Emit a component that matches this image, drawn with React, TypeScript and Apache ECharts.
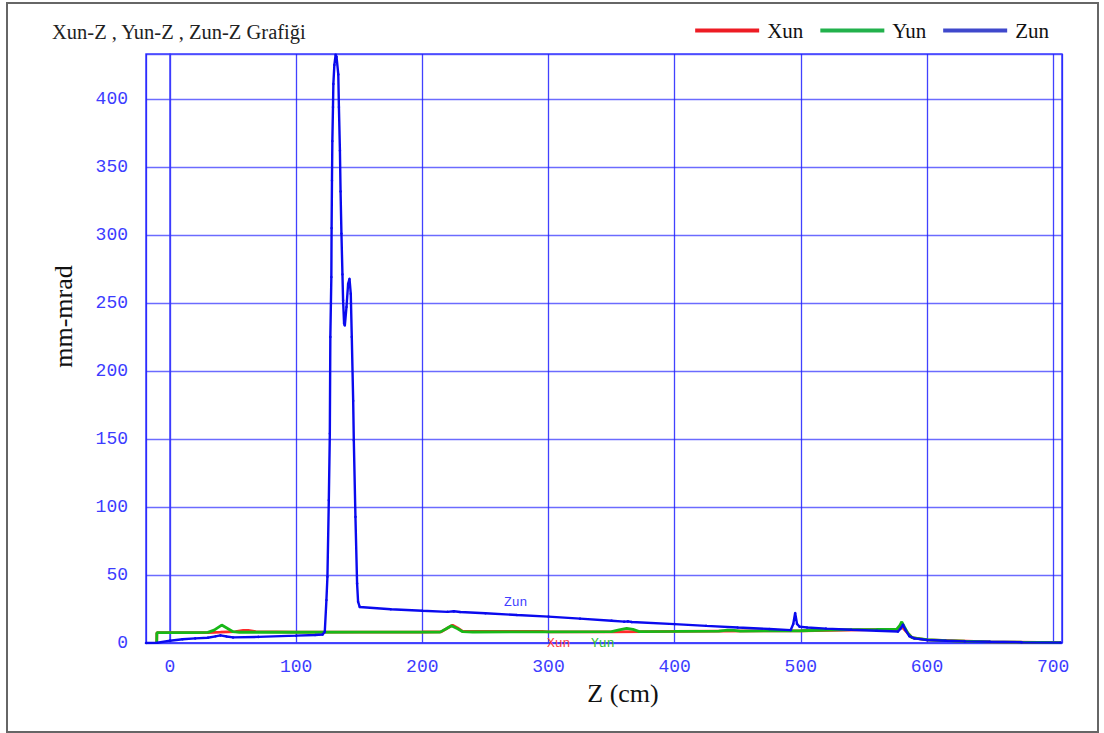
import React, { useEffect, useRef } from "react";
import * as echarts from "echarts";

// ---- data ----
const zunZ = [-19, -10, 0, 10, 20, 30, 36, 40, 45, 50, 70, 100, 115, 121, 122.7, 124, 124.8, 125.9, 126.7, 127.1, 127.9, 128.1, 128.4, 128.7, 129.2, 129.5, 130.3, 131.3, 132, 133.4, 133.9, 134.7, 135.2, 135.9, 136.7, 137.2, 138, 138.6, 139.9, 141.2, 142.3, 143.3, 144.1, 145.2, 145.7, 147, 148.3, 149.1, 150.4, 175, 200, 220, 225, 230, 250, 275, 300, 325, 350, 360, 363, 366, 400, 425, 450, 475, 492, 494, 495.5, 497, 499, 505, 520, 540, 560, 577, 579, 581, 583, 586, 590, 600, 615, 630, 650, 675, 706];
const zunV = [0, 0.2, 1.7, 2.8, 3.4, 3.9, 4.9, 5.6, 4.8, 4.1, 4.5, 5.4, 5.9, 6.3, 8.3, 31.6, 48.7, 105, 154, 225, 269, 305, 340, 369, 394, 411, 425, 432.5, 431, 418, 394, 362, 332, 301, 271, 252, 235, 233.4, 247, 264, 267.7, 256.7, 225, 178, 149, 92.7, 43.8, 30.3, 26.5, 24.8, 23.7, 22.9, 23.3, 22.8, 21.9, 20.6, 19.4, 17.9, 16.4, 15.7, 15.9, 15.4, 13.9, 12.6, 11.4, 10.3, 9.5, 14, 22, 14, 12, 11.4, 10.6, 9.7, 9.0, 8.4, 10.5, 13.5, 9.5, 5, 3.4, 2.2, 1.6, 1.2, 0.9, 0.6, 0.3];

const yunZ = [-10.5, -10.4, 0, 20, 30, 35, 41, 46, 50, 55, 100, 150, 200, 214, 219, 223, 228, 232, 240, 300, 350, 356, 362, 367, 372, 400, 435, 442, 447, 452, 500, 520, 540, 560, 576, 578.5, 580, 582, 585, 588, 592, 600, 615, 630, 650, 675, 706];
const yunV = [0, 7.6, 7.6, 7.7, 7.8, 9.5, 13.2, 10.5, 8.3, 7.9, 7.9, 8.0, 8.0, 8.0, 10.5, 12.7, 10.5, 8.3, 8.1, 8.2, 8.3, 9.6, 10.8, 10.0, 8.4, 8.5, 8.7, 9.5, 9.3, 8.8, 9.0, 9.5, 9.8, 10, 10.2, 13, 15.6, 12, 7, 4, 3.4, 2.4, 1.7, 1.3, 0.9, 0.6, 0.3];

const xunZ = [-10.5, -10.4, 0, 30, 40, 52, 58, 62, 68, 100, 200, 215, 220, 224, 228, 232, 250, 295, 300, 350, 400, 500, 560, 578, 580, 583, 588, 600, 650, 706];
const xunV = [0, 7.6, 7.6, 7.7, 8.0, 8.4, 9.2, 9.2, 8.3, 8.0, 8.1, 8.2, 11, 13.0, 11, 8.6, 8.6, 8.5, 8.2, 8.2, 8.5, 9.0, 9.8, 10, 12, 9, 4, 2.3, 0.9, 0.3];

const seriesNames = ["Xun", "Yun", "Zun"];
const lineColors = ["#ff2a2a", "#18b818", "#0a0aee"];
const legendColors = ["#ed1c24", "#22b14c", "#3f48cc"];
const labelColors = ["#ff4040", "#30c030", "#4040ff"];
// in-plot series labels (data coordinates)
const labelAnchors: number[][] = [[308, 0], [343, 0], [274, 29.6]];

const zip = (z: number[], v: number[]) => z.map((x, i) => [x, v[i]]);

export default function App() {
  const ref = useRef<HTMLDivElement>(null);
  useEffect(() => {
    if (!ref.current) return;
    const chart = echarts.init(ref.current, null, { renderer: "svg" });
    const serif = "Liberation Serif";
    const mono = "Liberation Mono";
    const gridBlue = "#3b3bff";
    const datas = [zip(xunZ, xunV), zip(yunZ, yunV), zip(zunZ, zunV)];
    chart.setOption({
      animation: false,
      backgroundColor: "#ffffff",
      title: {
        text: "Xun-Z , Yun-Z , Zun-Z Grafiği",
        left: 47,
        top: 16,
        textStyle: { fontFamily: serif, fontSize: 20.5, fontWeight: "normal", color: "#222" },
      },
      legend: {
        right: 50,
        top: 15,
        icon: "rect",
        itemWidth: 64,
        itemHeight: 4,
        itemGap: 17,
        textStyle: { fontFamily: serif, fontSize: 21, color: "#111", padding: [0, 0, 0, 3] },
        data: seriesNames.map((n, i) => ({ name: n, itemStyle: { color: legendColors[i] } })),
      },
      grid: {
        left: 146,
        right: 42,
        top: 54,
        bottom: 90,
        show: true,
        borderColor: gridBlue,
        borderWidth: 1.5,
      },
      xAxis: {
        type: "value",
        min: -19,
        max: 707,
        splitNumber: 7,
        name: "Z (cm)",
        nameLocation: "middle",
        nameGap: 24,
        nameTextStyle: { fontFamily: serif, fontSize: 26, color: "#111", padding: [0, 0, 0, 38] },
        axisLine: { show: true, lineStyle: { color: gridBlue, width: 1.5 } },
        axisTick: { show: false },
        splitLine: { show: true, lineStyle: { color: "#2020ff", width: 1.3, opacity: 0.85 } },
        axisLabel: {
          showMinLabel: false,
          showMaxLabel: false,
          margin: 15,
          fontFamily: mono,
          fontSize: 18,
          color: "#3c3cff",
        },
      },
      yAxis: {
        type: "value",
        min: 0,
        max: 433,
        interval: 50,
        name: "mm-mrad",
        nameLocation: "middle",
        nameGap: 70,
        nameRotate: 90,
        nameTextStyle: { fontFamily: serif, fontSize: 26, color: "#111", padding: [0, 0, 0, 64] },
        axisLine: { show: true, lineStyle: { color: gridBlue, width: 1.5 } },
        axisTick: { show: false },
        splitLine: { show: true, lineStyle: { color: "#4646ff", width: 1.3, opacity: 0.8 } },
        axisLabel: {
          showMaxLabel: false,
          margin: 18,
          fontFamily: mono,
          fontSize: 18,
          color: "#3c3cff",
        },
      },
      graphic: [
        {
          type: "rect",
          shape: { x: 7, y: 3, width: 1091, height: 729 },
          style: { fill: "none", stroke: "#666", lineWidth: 2 },
          silent: true,
          z: 100,
        },
      ],
      series: seriesNames.map((n, i) => ({
        name: n,
        type: "line",
        data: datas[i],
        showSymbol: i === 2,
        symbol: "circle",
        symbolSize: 2.5,
        itemStyle: { color: lineColors[i] },
        lineStyle: { color: lineColors[i], width: i === 2 ? 2.4 : 2.8 },
        clip: true,
        z: 2 + i,
        markPoint: {
          silent: true,
          symbol: "circle",
          symbolSize: 0,
          label: {
            show: true,
            position: "inside",
            formatter: n,
            fontFamily: mono,
            fontSize: 13,
            color: labelColors[i],
          },
          data: [{ coord: labelAnchors[i] }],
        },
      })),
    });
    return () => chart.dispose();
  }, []);
  return (
    <div
      ref={ref}
      style={{ position: "absolute", left: 0, top: 0, width: 1104, height: 733, background: "#fff" }}
    />
  );
}
